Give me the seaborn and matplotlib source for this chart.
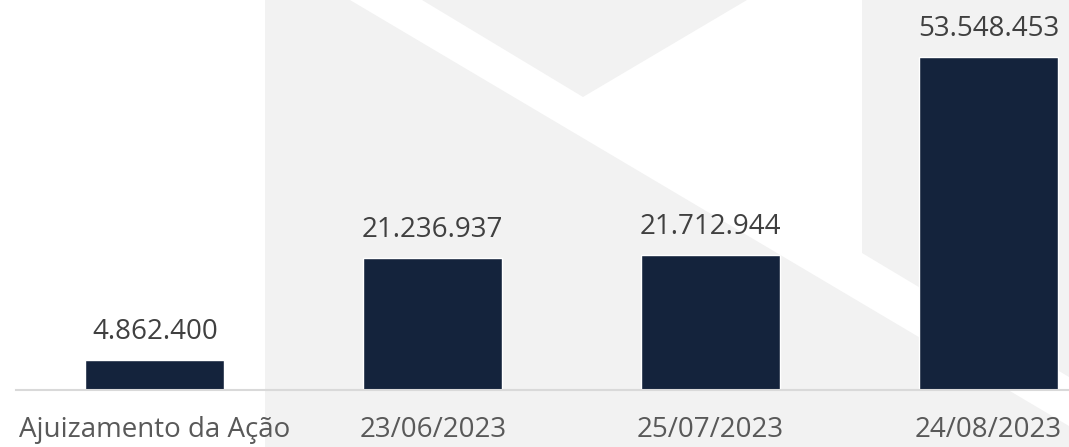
import matplotlib
matplotlib.use("Agg")
import matplotlib.pyplot as plt
from matplotlib.patches import Polygon, Rectangle
import seaborn as sns

CATEGORIES = ["Ajuizamento da Ação", "23/06/2023", "25/07/2023", "24/08/2023"]
VALUES = [4862400, 21236937, 21712944, 53548453]

BAR_COLOR = "#14233C"
LABEL_COLOR = "#404040"
TICK_COLOR = "#595959"
WATERMARK_GREY = "#F2F2F2"

W, H = 1069, 447


def fmt_br(value: int) -> str:
    return f"{value:,}".replace(",", ".")


def draw_watermark(fig) -> None:
    # faint logo behind the chart, drawn in pixel space of the figure
    bg = fig.add_axes([0, 0, 1, 1], zorder=0)
    bg.set_xlim(0, W)
    bg.set_ylim(H, 0)
    bg.axis("off")
    bg.add_patch(Rectangle((265, 0), W - 265, H, color=WATERMARK_GREY, lw=0))
    bg.add_patch(
        Polygon(
            [(350, 0), (422, 0), (583, 97), (747, 0), (862, 0),
             (862, 253), (W, 377), (W, 426)],
            closed=True, color="white", lw=0,
        )
    )


def main() -> None:
    sns.set_theme(style="white")
    plt.rcParams["font.family"] = ["Open Sans", "DejaVu Sans"]

    fig = plt.figure(figsize=(W / 100, H / 100), dpi=100)
    draw_watermark(fig)

    ax = fig.add_axes([16 / W, (H - 390) / H, (W - 16) / W, 390 / H], zorder=1)
    ax.patch.set_alpha(0)
    sns.barplot(x=CATEGORIES, y=VALUES, color=BAR_COLOR, width=0.5,
                saturation=1, ax=ax)

    ax.bar_label(ax.containers[0], labels=[fmt_br(v) for v in VALUES],
                 padding=10, fontsize=20, color=LABEL_COLOR)

    ax.set_xlim(-0.5, 3.29)
    ax.set_ylim(0, max(VALUES) * 390 / 333)
    ax.set_yticks([])
    ax.set_xlabel("")
    ax.set_ylabel("")
    ax.tick_params(axis="x", length=0, pad=19, labelsize=20, labelcolor=TICK_COLOR)
    for side in ["top", "left", "right"]:
        ax.spines[side].set_visible(False)
    ax.spines["bottom"].set_color("#D9D9D9")
    ax.spines["bottom"].set_linewidth(1.5)

    fig.savefig("out.png", dpi=100)
    plt.close(fig)


if __name__ == "__main__":
    main()
